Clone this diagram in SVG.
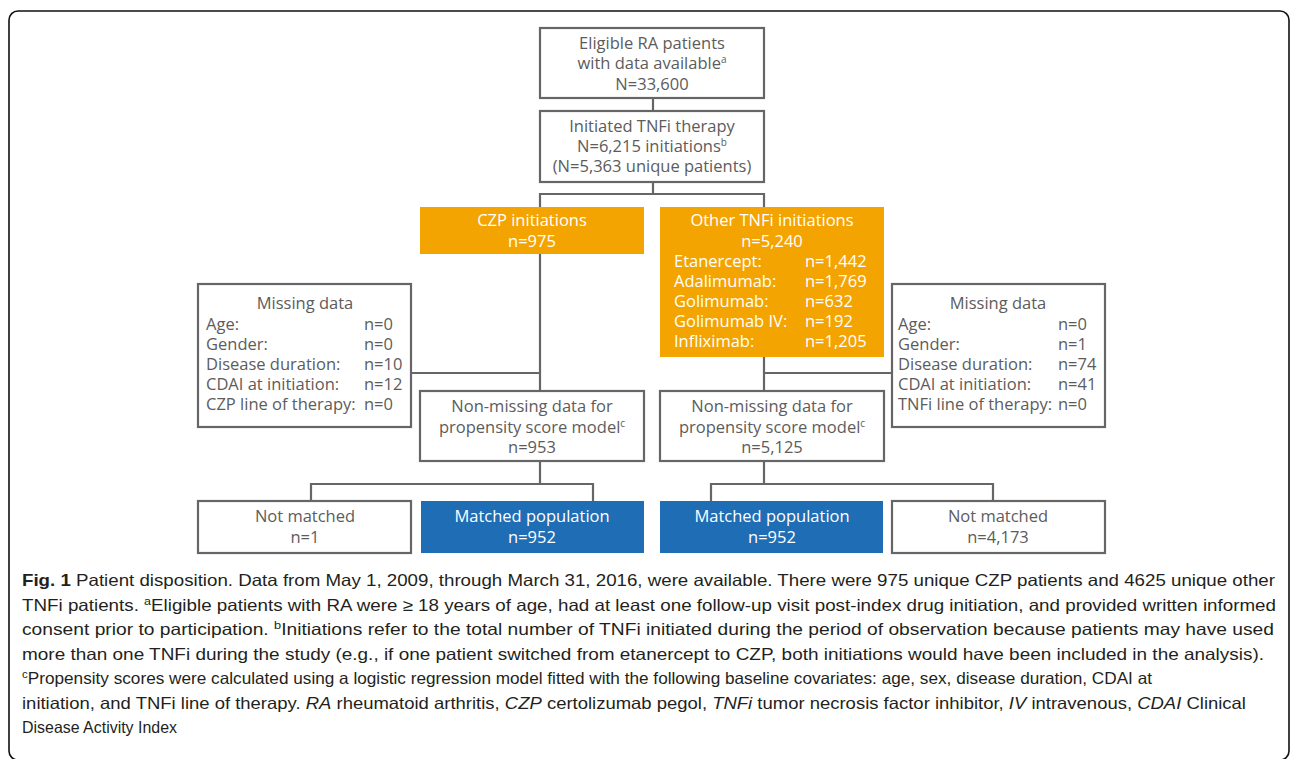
<svg xmlns="http://www.w3.org/2000/svg" width="1290" height="759" viewBox="0 0 1290 759">
<style>
.bx{fill:#fff;stroke:#666;stroke-width:2.2}
.org{fill:#F4A400}
.blu{fill:#1F6DB4}
.t{font-family:"Open Sans",sans-serif;font-size:16.5px;fill:#5c5c5c}
.w{fill:#fff}
.c{text-anchor:middle}
.ln{stroke:#666;stroke-width:2.2;fill:none}
.cap{font-family:"Liberation Sans",Arial,sans-serif;font-size:16.5px;fill:#231f20}
.i{font-style:italic}
</style>
<rect x="9" y="11" width="1280" height="749" rx="9" fill="#fff" stroke="#111" stroke-width="1.6"/>
<g id="connectors">
<path class="ln" d="M653 98V111M653 182V194M540 194H764M540 193V207M764 193V207M540 254V391M411 373H540M764 357V391M764 373H892M540 461V484M311 484H593M311 483V501M593 483V501M764 461V484M711 484H993M711 483V501M993 483V501"/>
</g>
<g id="n-eligible">
<rect class="bx" x="540" y="28" width="224" height="70"/>
<text class="t c"><tspan x="652" y="49">Eligible RA patients</tspan><tspan x="652" y="69">with data available<tspan font-size="10" dy="-6">a</tspan></tspan><tspan x="652" y="90">N=33,600</tspan></text>
</g>
<g id="n-initiated">
<rect class="bx" x="540" y="111" width="224" height="71"/>
<text class="t c"><tspan x="652" y="132">Initiated TNFi therapy</tspan><tspan x="652" y="152">N=6,215 initiations<tspan font-size="10" dy="-6">b</tspan></tspan><tspan x="652" y="172">(N=5,363 unique patients)</tspan></text>
</g>
<g id="n-czp">
<rect class="org" x="420" y="207" width="224" height="47"/>
<text class="t c w"><tspan x="532" y="226">CZP initiations</tspan><tspan x="532" y="247">n=975</tspan></text>
</g>
<g id="n-other">
<rect class="org" x="660" y="207" width="224" height="150"/>
<text class="t w"><tspan x="772" y="226" text-anchor="middle">Other TNFi initiations</tspan><tspan x="772" y="247" text-anchor="middle">n=5,240</tspan><tspan x="674" y="267">Etanercept:</tspan><tspan x="805" y="267">n=1,442</tspan><tspan x="674" y="287">Adalimumab:</tspan><tspan x="805" y="287">n=1,769</tspan><tspan x="674" y="307">Golimumab:</tspan><tspan x="805" y="307">n=632</tspan><tspan x="674" y="327">Golimumab IV:</tspan><tspan x="805" y="327">n=192</tspan><tspan x="674" y="347">Infliximab:</tspan><tspan x="805" y="347">n=1,205</tspan></text>
</g>
<g id="n-missing-czp">
<rect class="bx" x="198" y="284" width="213" height="143"/>
<text class="t"><tspan x="305" y="309" text-anchor="middle">Missing data</tspan><tspan x="206" y="330">Age:</tspan><tspan x="364" y="330">n=0</tspan><tspan x="206" y="350">Gender:</tspan><tspan x="364" y="350">n=0</tspan><tspan x="206" y="370">Disease duration:</tspan><tspan x="364" y="370">n=10</tspan><tspan x="206" y="390">CDAI at initiation:</tspan><tspan x="364" y="390">n=12</tspan><tspan x="206" y="410">CZP line of therapy:</tspan><tspan x="364" y="410">n=0</tspan></text>
</g>
<g id="n-missing-other">
<rect class="bx" x="892" y="284" width="213" height="143"/>
<text class="t"><tspan x="998" y="309" text-anchor="middle">Missing data</tspan><tspan x="898" y="330">Age:</tspan><tspan x="1058" y="330">n=0</tspan><tspan x="898" y="350">Gender:</tspan><tspan x="1058" y="350">n=1</tspan><tspan x="898" y="370">Disease duration:</tspan><tspan x="1058" y="370">n=74</tspan><tspan x="898" y="390">CDAI at initiation:</tspan><tspan x="1058" y="390">n=41</tspan><tspan x="898" y="410">TNFi line of therapy:</tspan><tspan x="1058" y="410">n=0</tspan></text>
</g>
<g id="n-nonmissing-czp">
<rect class="bx" x="420" y="391" width="224" height="70"/>
<text class="t c"><tspan x="532" y="412">Non-missing data for</tspan><tspan x="532" y="433">propensity score model<tspan font-size="10" dy="-6">c</tspan></tspan><tspan x="532" y="453">n=953</tspan></text>
</g>
<g id="n-nonmissing-other">
<rect class="bx" x="660" y="391" width="224" height="70"/>
<text class="t c"><tspan x="772" y="412">Non-missing data for</tspan><tspan x="772" y="433">propensity score model<tspan font-size="10" dy="-6">c</tspan></tspan><tspan x="772" y="453">n=5,125</tspan></text>
</g>
<g id="n-notmatched-czp">
<rect class="bx" x="198" y="501" width="213" height="52"/>
<text class="t c"><tspan x="305" y="522">Not matched</tspan><tspan x="305" y="543">n=1</tspan></text>
</g>
<g id="n-matched-czp">
<rect class="blu" x="421" y="501" width="223" height="52"/>
<text class="t c w"><tspan x="532" y="522">Matched population</tspan><tspan x="532" y="543">n=952</tspan></text>
</g>
<g id="n-matched-other">
<rect class="blu" x="660" y="501" width="223" height="52"/>
<text class="t c w"><tspan x="772" y="522">Matched population</tspan><tspan x="772" y="543">n=952</tspan></text>
</g>
<g id="n-notmatched-other">
<rect class="bx" x="892" y="501" width="213" height="52"/>
<text class="t c"><tspan x="998" y="522">Not matched</tspan><tspan x="998" y="543">n=4,173</tspan></text>
</g>
<g id="caption" class="cap">
<text x="22" y="586" textLength="1253" lengthAdjust="spacingAndGlyphs"><tspan font-weight="bold">Fig. 1</tspan> Patient disposition. Data from May 1, 2009, through March 31, 2016, were available. There were 975 unique CZP patients and 4625 unique other</text>
<text x="22" y="610.5" textLength="1254" lengthAdjust="spacingAndGlyphs">TNFi patients. <tspan font-size="11" dy="-6">a</tspan><tspan dy="6">Eligible patients with RA were ≥ 18 years of age, had at least one follow-up visit post-index drug initiation, and provided written informed</tspan></text>
<text x="22" y="635" textLength="1252" lengthAdjust="spacingAndGlyphs">consent prior to participation. <tspan font-size="11" dy="-6">b</tspan><tspan dy="6">Initiations refer to the total number of TNFi initiated during the period of observation because patients may have used</tspan></text>
<text x="22" y="659.5" textLength="1242" lengthAdjust="spacingAndGlyphs">more than one TNFi during the study (e.g., if one patient switched from etanercept to CZP, both initiations would have been included in the analysis).</text>
<text x="22" y="684" textLength="1130" lengthAdjust="spacingAndGlyphs"><tspan font-size="11" dy="-6">c</tspan><tspan dy="6">Propensity scores were calculated using a logistic regression model fitted with the following baseline covariates: age, sex, disease duration, CDAI at</tspan></text>
<text x="22" y="708.5" textLength="1224" lengthAdjust="spacingAndGlyphs">initiation, and TNFi line of therapy. <tspan class="i">RA</tspan> rheumatoid arthritis, <tspan class="i">CZP</tspan> certolizumab pegol, <tspan class="i">TNFi</tspan> tumor necrosis factor inhibitor, <tspan class="i">IV</tspan> intravenous, <tspan class="i">CDAI</tspan> Clinical</text>
<text x="22" y="733" textLength="155" lengthAdjust="spacingAndGlyphs">Disease Activity Index</text>
</g>
</svg>
